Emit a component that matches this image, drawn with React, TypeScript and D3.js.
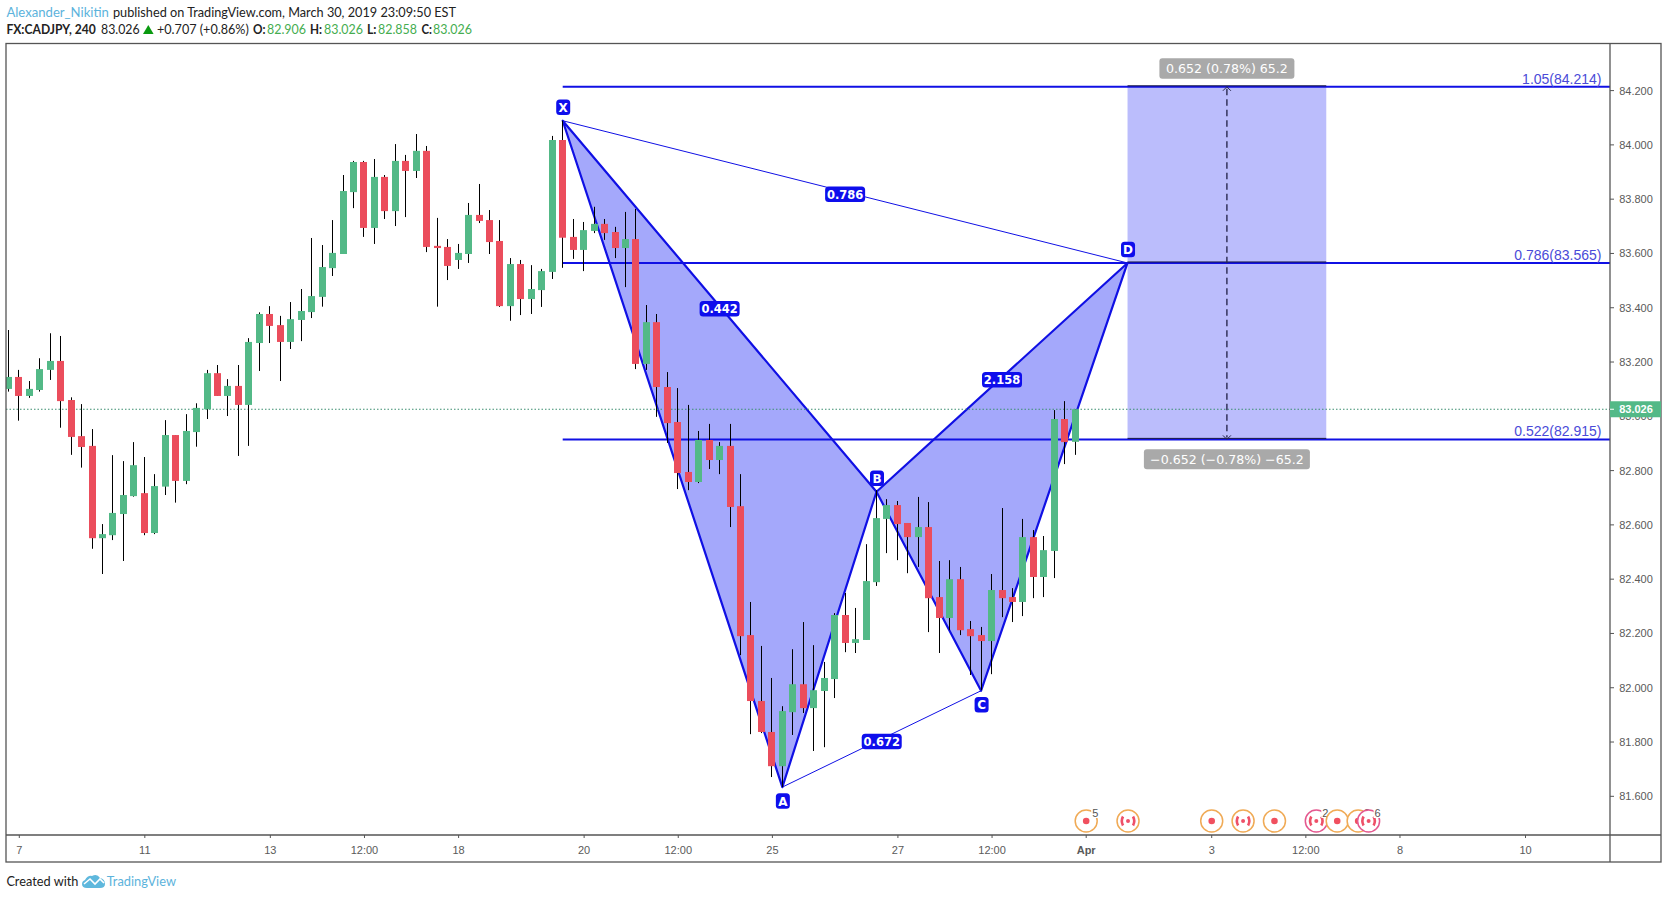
import React from "react";
import * as d3 from "d3";

const firstBar = -1;
const opens = [83.101,83.145,83.075,83.097,83.171,83.204,83.060,82.927,82.891,82.551,82.562,82.640,82.706,82.717,82.570,82.741,82.931,82.762,82.942,83.026,83.159,83.075,83.112,83.042,83.270,83.377,83.336,83.274,83.355,83.384,83.440,83.546,83.598,83.826,83.937,83.694,83.882,83.756,83.941,83.904,83.978,83.628,83.624,83.576,83.598,83.742,83.723,83.646,83.406,83.561,83.432,83.465,83.532,84.018,83.661,83.613,83.683,83.709,83.679,83.620,83.653,83.193,83.347,83.108,82.979,82.795,82.758,82.913,82.839,82.891,82.669,82.194,81.951,81.837,81.711,81.910,82.013,81.925,81.988,82.032,82.268,82.165,82.176,82.389,82.622,82.673,82.607,82.555,82.592,82.334,82.257,82.400,82.216,82.194,82.172,82.360,82.334,82.316,82.555,82.408,82.504,82.990,82.906];
const highs = [83.318,83.171,83.130,83.214,83.306,83.296,83.070,83.045,82.953,82.603,82.857,82.835,82.905,82.850,82.787,82.986,82.931,83.008,83.048,83.171,83.189,83.137,83.189,83.288,83.383,83.406,83.370,83.421,83.469,83.657,83.631,83.723,83.889,83.941,83.941,83.948,83.889,84.003,83.963,84.040,83.996,83.731,83.653,83.635,83.786,83.856,83.760,83.723,83.583,83.576,83.557,83.543,84.033,84.089,83.727,83.716,83.772,83.727,83.698,83.753,83.764,83.410,83.377,83.163,83.104,83.042,82.946,82.972,82.905,82.972,82.787,82.316,82.154,82.036,81.932,82.142,82.242,82.157,82.095,82.275,82.349,82.294,82.529,82.728,82.695,82.688,82.607,82.703,82.684,82.467,82.470,82.445,82.246,82.224,82.419,82.662,82.367,82.622,82.581,82.559,83.023,83.056,83.026];
const lows = [83.091,82.984,83.068,83.091,83.134,82.958,82.858,82.811,82.512,82.419,82.544,82.467,82.704,82.562,82.566,82.710,82.682,82.750,82.888,82.990,83.075,83.001,82.854,82.891,83.167,83.270,83.130,83.248,83.277,83.362,83.404,83.517,83.598,83.767,83.661,83.635,83.727,83.701,83.734,83.878,83.605,83.404,83.502,83.543,83.565,83.712,83.598,83.403,83.352,83.373,83.377,83.403,83.506,83.547,83.580,83.535,83.675,83.650,83.583,83.476,83.174,83.171,82.998,82.902,82.732,82.728,82.754,82.806,82.787,82.592,82.120,81.829,81.833,81.671,81.634,81.826,81.907,81.767,81.781,81.962,82.131,82.128,82.176,82.375,82.496,82.470,82.422,82.445,82.205,82.128,82.212,82.194,82.047,81.991,82.050,82.260,82.242,82.264,82.330,82.334,82.404,82.824,82.858];
const closes = [83.145,83.075,83.101,83.174,83.204,83.056,82.924,82.887,82.551,82.566,82.644,82.710,82.820,82.570,82.743,82.931,82.762,82.946,83.031,83.159,83.075,83.112,83.042,83.274,83.377,83.333,83.274,83.358,83.388,83.443,83.550,83.602,83.830,83.937,83.694,83.882,83.756,83.941,83.904,83.978,83.624,83.620,83.554,83.602,83.742,83.720,83.642,83.406,83.561,83.432,83.469,83.535,84.018,83.658,83.613,83.686,83.709,83.675,83.620,83.653,83.193,83.347,83.108,82.975,82.791,82.758,82.913,82.839,82.891,82.666,82.190,81.951,81.837,81.711,81.914,82.013,81.925,81.991,82.036,82.268,82.165,82.179,82.393,82.625,82.673,82.603,82.555,82.592,82.330,82.257,82.400,82.212,82.190,82.172,82.360,82.330,82.316,82.555,82.408,82.507,82.990,82.905,83.026];

const patternNames = ["X", "A", "B", "C", "D"];
const patternBars = [52, 73, 82, 92, 106];
const patternPrices = [84.089, 81.634, 82.722, 81.989, 83.565];
const ratioFrom = [0, 0, 2, 1];
const ratioTo = [4, 2, 4, 3];
const ratioLabels = ["0.786", "0.442", "2.158", "0.672"];

const levelNames = ["1.05(84.214)", "0.786(83.565)", "0.522(82.915)"];
const levelPrices = [84.214, 83.565, 82.915];
const levelStartBar = 52;
const rangeBars = [106, 125];
const rangeUpLabel = "0.652 (0.78%) 65.2";
const rangeDownLabel = "\u22120.652 (\u22120.78%) \u221265.2";
const lastPrice = 83.026;

const priceTicks = [84.2, 84.0, 83.8, 83.6, 83.4, 83.2, 83.0, 82.8, 82.6, 82.4, 82.2, 82.0, 81.8, 81.6];
const timeBars = [0, 12, 24, 33, 42, 54, 63, 72, 84, 93, 102, 114, 123, 132, 144];
const timeLabels = ["7", "11", "13", "12:00", "18", "20", "12:00", "25", "27", "12:00", "Apr", "3", "12:00", "8", "10"];

const eventBars = [102, 106, 114, 117, 120, 124, 126, 129, 128];
const eventKinds = ["dot", "flag", "dot", "flag", "dot", "flag", "dot", "flag", "dot"];
const eventRings = ["o", "o", "o", "o", "o", "p", "o", "p", "o"];
const eventCounts = ["5", "", "", "", "", "2", "", "6", "2"];

const W = 1668, H = 899;
const L = 6, T = 43.5, PR = 1610, PB = 835, R = 1661, B = 862;
const x = d3.scaleLinear().domain([0, 144]).range([18.8, 1525]);
const y = d3.scaleLinear().domain([84.2, 82.8]).range([90.6, 470.6]);

const UP = "#53b987", DOWN = "#eb4d5c", BLUE = "#1010e4", FILL = "#a4a8fb", RANGE = "#bbbdfc";
const AXIS = "#555555", TXT = "#5a5a5a";
const SANS = "'Liberation Sans', Arial, sans-serif";
const DEJA = "'DejaVu Sans', sans-serif";
const HEAD = "Lato, sans-serif";

const pt = (i: number): [number, number] => [x(patternBars[i]), y(patternPrices[i])];
const tri = d3.line().curve(d3.curveLinearClosed);

function Head({ at, base, len, bold, fill, children }: { at: number; base: number; len: number; bold?: boolean; fill?: string; children: string }) {
  return (
    <text x={at} y={base} textLength={len} lengthAdjust="spacingAndGlyphs" fontFamily={HEAD} fontSize={13.6} fontWeight={bold ? 700 : 400} fill={fill || "#222"}>{children}</text>
  );
}

function Event({ i }: { i: number }) {
  const cx = x(eventBars[i]) + 0.5;
  const cy = 821;
  const ring = eventRings[i] === "p" ? "#e4588f" : "#f0aa55";
  const n = eventCounts[i];
  return (
    <g>
      <circle cx={cx} cy={cy} r={11} fill="#fff" stroke={ring} strokeWidth={1.5} />
      {eventKinds[i] === "dot" ? (
        <circle cx={cx} cy={cy} r={3.3} fill="#f0505f" />
      ) : (
        <g fill="none" stroke="#ee5068" strokeWidth={2.6}>
          <path d={`M${cx - 5},${cy - 4.5} Q${cx - 7.5},${cy} ${cx - 5},${cy + 4.5}`} />
          <path d={`M${cx + 5},${cy - 4.5} Q${cx + 7.5},${cy} ${cx + 5},${cy + 4.5}`} />
          <circle cx={cx} cy={cy} r={2} fill="#ee5068" stroke="none" />
        </g>
      )}
      {n && (
        <g>
          <rect x={cx + 5} y={cy - 14} width={9} height={11} fill="#fff" />
          <text x={cx + 9} y={cy - 4} textAnchor="middle" fontFamily={SANS} fontSize={11} fill="#555">{n}</text>
        </g>
      )}
    </g>
  );
}

function Tag({ cx, cy, w, h, text, size }: { cx: number; cy: number; w: number; h: number; text: string; size: number }) {
  return (
    <g>
      <rect x={cx - w / 2} y={cy - h / 2} width={w} height={h} rx={3.5} fill="#0e0eec" />
      <text x={cx} y={cy + size * 0.37} textAnchor="middle" fontFamily={DEJA} fontWeight={700} fontSize={size} fill="#fff">{text}</text>
    </g>
  );
}

export default function App() {
  const xr = [x(rangeBars[0]), x(rangeBars[1])];
  const xm = (xr[0] + xr[1]) / 2;
  const yTop = y(levelPrices[0]);
  const yBot = y(levelPrices[2]);
  return (
    <svg width={W} height={H} viewBox={`0 0 ${W} ${H}`} style={{ position: "fixed", left: 0, top: 0, background: "#fff" }}>
      <defs>
        <clipPath id="pane"><rect x={L} y={T} width={PR - L} height={PB - T} /></clipPath>
      </defs>

      <Head at={6.4} base={17} len={102.5} fill="#5cb3dc">Alexander_Nikitin</Head>
      <Head at={113} base={17} len={343}>published on TradingView.com, March 30, 2019 23:09:50 EST</Head>
      <Head at={6.4} base={34} len={89.5} bold>FX:CADJPY, 240</Head>
      <Head at={101} base={34} len={38.6}>83.026</Head>
      <path d="M143,34 L148.3,25 L153.6,34 Z" fill="#0a9a10" />
      <Head at={157} base={34} len={91.8}>+0.707 (+0.86%)</Head>
      <Head at={253} base={34} len={12.5} bold>O:</Head>
      <Head at={267} base={34} len={39} fill="#45ad50">82.906</Head>
      <Head at={310} base={34} len={12} bold>H:</Head>
      <Head at={324} base={34} len={39} fill="#45ad50">83.026</Head>
      <Head at={367} base={34} len={9.5} bold>L:</Head>
      <Head at={378} base={34} len={39} fill="#45ad50">82.858</Head>
      <Head at={421.4} base={34} len={10.5} bold>C:</Head>
      <Head at={433} base={34} len={39} fill="#45ad50">83.026</Head>

      <g clipPath="url(#pane)">
        <rect x={xr[0]} y={yTop} width={xr[1] - xr[0]} height={yBot - yTop} fill={RANGE} />
        <path d={tri([pt(0), pt(1), pt(2)]) as string} fill={FILL} stroke={BLUE} strokeWidth={2.2} strokeLinejoin="round" />
        <path d={tri([pt(2), pt(3), pt(4)]) as string} fill={FILL} stroke={BLUE} strokeWidth={2.2} strokeLinejoin="round" />
        <line x1={pt(0)[0]} y1={pt(0)[1]} x2={pt(4)[0]} y2={pt(4)[1]} stroke={BLUE} strokeWidth={1} />
        <line x1={pt(1)[0]} y1={pt(1)[1]} x2={pt(3)[0]} y2={pt(3)[1]} stroke={BLUE} strokeWidth={1} />
        {levelPrices.map((p, i) => (
          <g key={i}>
            <line x1={x(levelStartBar)} x2={PR} y1={y(p)} y2={y(p)} stroke={BLUE} strokeWidth={2} />
            <line x1={xr[0]} x2={xr[1]} y1={y(p) - 1} y2={y(p) - 1} stroke="#1a1a40" strokeWidth={1} />
            <text x={1601.5} y={y(p) - 3} textAnchor="end" fontFamily={SANS} fontSize={14} fill="#4a4ad8">{levelNames[i]}</text>
          </g>
        ))}
        <line x1={L} x2={PR} y1={y(lastPrice)} y2={y(lastPrice)} stroke="#3c8f70" strokeWidth={1} strokeDasharray="1.5 2" />

        {opens.map((o, i) => {
          const c = closes[i];
          const cx = Math.floor(x(firstBar + i));
          const top = y(Math.max(o, c));
          const bot = y(Math.min(o, c));
          return (
            <g key={i}>
              <line x1={cx + 0.5} x2={cx + 0.5} y1={y(highs[i])} y2={y(lows[i])} stroke="#000" strokeWidth={1} />
              <rect x={cx - 3} y={top} width={7} height={Math.max(bot - top, 1)} fill={c >= o ? UP : DOWN} />
            </g>
          );
        })}

        <line x1={xm} x2={xm} y1={yTop + 2} y2={yBot - 2} stroke="#2a2a50" strokeWidth={1.4} strokeDasharray="6.5 4" />
        <path d={`M${xm - 4},${yTop + 4} L${xm},${yTop} L${xm + 4},${yTop + 4}`} fill="none" stroke="#2a2a50" strokeWidth={1} />
        <path d={`M${xm - 4},${yBot - 4} L${xm},${yBot} L${xm + 4},${yBot - 4}`} fill="none" stroke="#2a2a50" strokeWidth={1} />
      </g>

      <g>
        <rect x={xm - 67.5} y={58.3} width={135} height={20.4} rx={3} fill="#a9a9a9" />
        <text x={xm} y={73.2} textAnchor="middle" fontFamily={DEJA} fontSize={12.6} fill="#fff">{rangeUpLabel}</text>
        <rect x={xm - 83} y={449.3} width={166} height={20} rx={3} fill="#a9a9a9" />
        <text x={xm} y={464} textAnchor="middle" fontFamily={DEJA} fontSize={12.6} fill="#fff">{rangeDownLabel}</text>
      </g>

      {ratioLabels.map((t, i) => {
        const a = pt(ratioFrom[i]), b = pt(ratioTo[i]);
        return <Tag key={t} cx={(a[0] + b[0]) / 2} cy={(a[1] + b[1]) / 2 + 2.5} w={40} h={15.5} text={t} size={11.5} />;
      })}
      {patternNames.map((n, i) => {
        const [px, py] = pt(i);
        const below = n === "A" || n === "C";
        return <Tag key={n} cx={px + 0.5} cy={py + (below ? 14 : -13.5)} w={14} h={15.5} text={n} size={12} />;
      })}

      <g>
        {[0, 1, 2, 3, 4, 5, 6, 8, 7].map((i) => <Event key={i} i={i} />)}
      </g>

      <g fill="none" stroke={AXIS} strokeWidth={1.3}>
        <rect x={L} y={T} width={R - L} height={B - T} />
        <line x1={PR} x2={PR} y1={T} y2={B} />
        <line x1={L} x2={R} y1={PB} y2={PB} />
      </g>
      {priceTicks.map((p) => (
        <g key={p}>
          <line x1={PR} x2={PR + 4} y1={y(p)} y2={y(p)} stroke={AXIS} />
          <text x={1636} y={y(p) + 4} textAnchor="middle" fontFamily={SANS} fontSize={11} fill={TXT}>{p.toFixed(3)}</text>
        </g>
      ))}
      <rect x={PR} y={y(lastPrice) - 8} width={R - PR} height={16} fill={UP} />
      <line x1={PR} x2={PR + 4} y1={y(lastPrice)} y2={y(lastPrice)} stroke="#fff" />
      <text x={1636} y={y(lastPrice) + 4} textAnchor="middle" fontFamily={SANS} fontWeight={700} fontSize={11} fill="#fff">{lastPrice.toFixed(3)}</text>

      {timeBars.map((b, i) => (
        <g key={i}>
          <line x1={x(b) + 0.5} x2={x(b) + 0.5} y1={PB} y2={PB + 3} stroke={AXIS} />
          <text x={x(b) + 0.5} y={854} textAnchor="middle" fontFamily={SANS} fontSize={11} fontWeight={timeLabels[i] === "Apr" ? 700 : 400} fill={TXT}>{timeLabels[i]}</text>
        </g>
      ))}

      <Head at={6.4} base={886} len={72}>Created with</Head>
      <path d="M82,884 Q82,881 85,880 Q88,875 92,876 Q97,873 100,878 Q105,879 105,884 Q105,888 100,888 L87,888 Q82,888 82,884 Z" fill="#5fb8dd" />
      <path d="M84,884 L90,879 L95,884 L100,879 L104,883" fill="none" stroke="#fff" strokeWidth={1.6} />
      <Head at={106.7} base={886} len={69.3} fill="#5cb3dc">TradingView</Head>
    </svg>
  );
}
